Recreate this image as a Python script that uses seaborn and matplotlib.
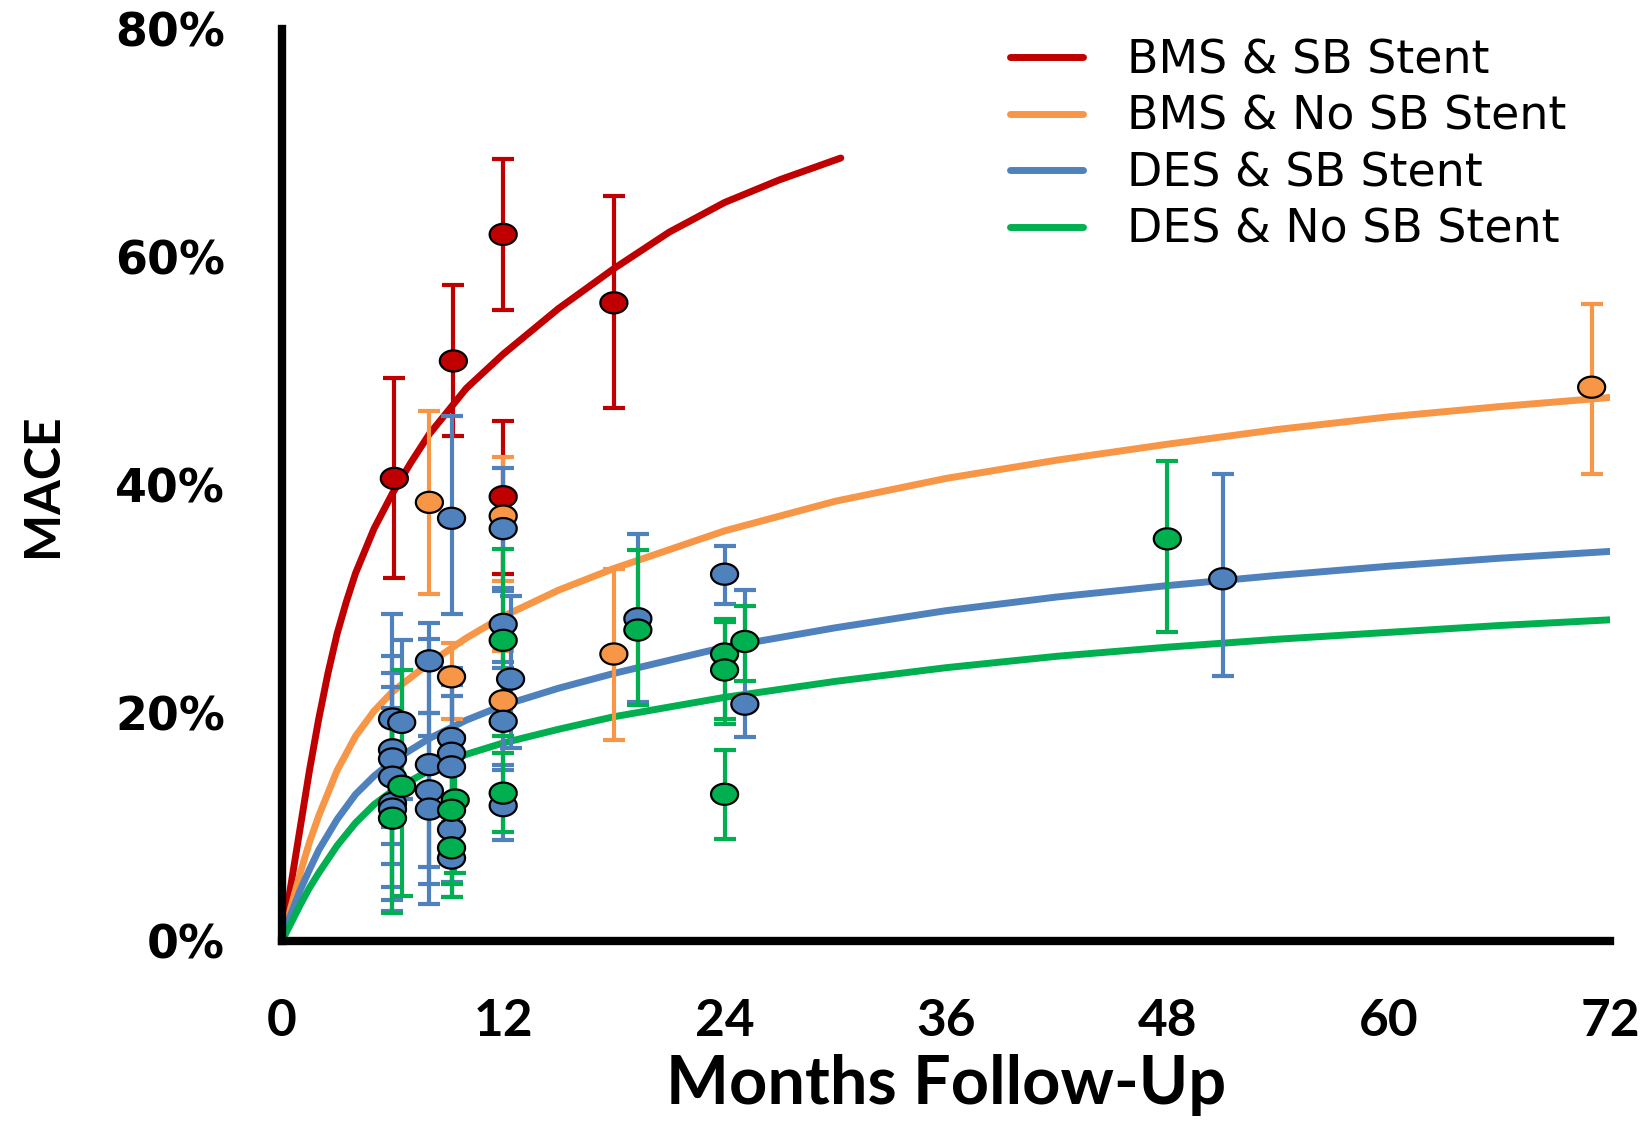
import numpy as np
import pandas as pd
import matplotlib
matplotlib.use('Agg')
import matplotlib.pyplot as plt
import seaborn as sns
from matplotlib.lines import Line2D

# Groups and colours
groups = ['BMS & SB Stent', 'BMS & No SB Stent', 'DES & SB Stent', 'DES & No SB Stent']
colours = ['#C00000', '#F79646', '#4F81BD', '#00B050']

# Fitted curves, values (months, % MACE)
red_curve_months = [0, 0.5, 1, 1.5, 2, 2.5, 3, 3.5, 4, 5, 6, 7, 8, 10, 12, 15, 18, 21, 24, 27, 30.3]
red_curve_mace = [0, 5, 10, 15, 19.5, 23.5, 27, 29.8, 32.3, 36.2, 39.3, 42, 44.5, 48.5, 51.5, 55.5, 59, 62.2, 64.8, 66.8, 68.7]

curve_months = [0, 0.5, 1, 1.5, 2, 3, 4, 5, 6, 8, 10, 12, 15, 18, 24, 30, 36, 42, 48, 54, 60, 66, 72]
orange_curve_mace = [0, 3, 6, 8.7, 11, 15, 18, 20.2, 21.9, 24.4, 26.6, 28.5, 30.8, 32.7, 36, 38.6, 40.6, 42.2, 43.6, 44.9, 46, 46.9, 47.7]
blue_curve_mace = [0, 2.4, 4.5, 6.3, 8, 10.7, 12.9, 14.5, 15.8, 17.8, 19.4, 20.7, 22.2, 23.5, 25.8, 27.5, 29, 30.2, 31.2, 32.1, 32.9, 33.6, 34.2]
green_curve_mace = [0, 1.6, 3.2, 4.7, 6, 8.4, 10.4, 12, 13.2, 15, 16.4, 17.4, 18.6, 19.7, 21.4, 22.8, 24, 25, 25.8, 26.5, 27.1, 27.7, 28.2]

# Individual studies: months, MACE %, lower and upper error
red_months = [6.1, 9.3, 12, 12, 18]
red_mace = [40.6, 50.9, 62.0, 39.0, 56.0]
red_lo = [31.9, 44.3, 55.4, 32.2, 46.8]
red_hi = [49.4, 57.6, 68.6, 45.6, 65.4]

orange_months = [8, 9.2, 12, 12, 18, 71]
orange_mace = [38.5, 23.2, 37.3, 21.1, 25.2, 48.6]
orange_lo = [30.5, 19.5, 31.6, 16.5, 17.7, 41.0]
orange_hi = [46.5, 26.2, 42.5, 25.5, 32.7, 55.9]

blue_months = [6, 6.5, 6, 6, 6, 6, 6, 8, 8, 8, 8, 9.2, 9.2, 9.2, 9.2, 9.2, 9.2,
               12, 12, 12.4, 12, 12, 19.3, 24, 25.1, 51]
blue_mace = [19.5, 19.2, 16.8, 16.0, 14.4, 12.1, 11.6, 24.6, 15.5, 13.2, 11.6, 37.1, 17.8, 16.5, 15.3, 9.8, 7.3,
             36.2, 27.8, 23.0, 19.3, 11.9, 28.3, 32.2, 20.8, 31.8]
blue_lo = [10.0, 12.5, 8.5, 6.8, 4.8, 3.6, 2.7, 20.0, 3.3, 6.5, 5.0, 28.7, 12.0, 10.5, 8.5, 5.2, 3.9,
           31.0, 24.5, 17.0, 15.0, 8.9, 21.0, 29.6, 17.9, 23.3]
blue_hi = [28.7, 26.4, 25.0, 23.5, 22.3, 20.5, 19.0, 27.9, 26.5, 20.0, 18.0, 46.1, 24.0, 22.5, 21.5, 15.0, 11.0,
           41.5, 30.7, 30.3, 24.0, 15.5, 35.7, 34.7, 30.8, 41.0]

green_months = [6.5, 6, 9.4, 9.2, 9.2, 12, 12, 19.3, 24, 24, 25.1, 24, 48]
green_mace = [13.6, 10.8, 12.4, 11.5, 8.2, 26.4, 13.0, 27.3, 25.2, 23.8, 26.3, 12.9, 35.3]
green_lo = [4.0, 2.5, 6.0, 5.0, 3.9, 18.0, 9.6, 20.7, 19.1, 19.5, 22.8, 9.0, 27.1]
green_hi = [23.8, 19.0, 18.0, 17.0, 12.5, 34.4, 16.5, 34.3, 28.3, 28.0, 29.4, 16.8, 42.1]

x_ticks = [0, 12, 24, 36, 48, 60, 72]
y_ticks = [0, 20, 40, 60, 80]

# Build tidy frames
curves = pd.concat([
    pd.DataFrame({'months': red_curve_months, 'mace': red_curve_mace, 'group': groups[0]}),
    pd.DataFrame({'months': curve_months, 'mace': orange_curve_mace, 'group': groups[1]}),
    pd.DataFrame({'months': curve_months, 'mace': blue_curve_mace, 'group': groups[2]}),
    pd.DataFrame({'months': curve_months, 'mace': green_curve_mace, 'group': groups[3]}),
]).reset_index(drop=True)

points = pd.concat([
    pd.DataFrame({'months': red_months, 'mace': red_mace, 'lo': red_lo, 'hi': red_hi, 'group': groups[0]}),
    pd.DataFrame({'months': orange_months, 'mace': orange_mace, 'lo': orange_lo, 'hi': orange_hi, 'group': groups[1]}),
    pd.DataFrame({'months': blue_months, 'mace': blue_mace, 'lo': blue_lo, 'hi': blue_hi, 'group': groups[2]}),
    pd.DataFrame({'months': green_months, 'mace': green_mace, 'lo': green_lo, 'hi': green_hi, 'group': groups[3]}),
]).reset_index(drop=True)

palette = dict(zip(groups, colours))

sns.set_style('white')
plt.rcParams['font.family'] = ['DejaVu Sans']
plt.rcParams.update({'text.color': 'black', 'axes.labelcolor': 'black',
                     'xtick.color': 'black', 'ytick.color': 'black'})

fig = plt.figure(figsize=(16.48, 11.22), dpi=100)
ax = fig.add_axes([0.171, 0.161, 0.806, 0.813])

sns.lineplot(data=curves, x='months', y='mace', hue='group', palette=palette, estimator=None,
             sort=False, linewidth=5, legend=False, ax=ax, zorder=2)

for group, df in points.groupby('group', sort=False):
    ax.errorbar(df['months'], df['mace'], yerr=[df['mace'] - df['lo'], df['hi'] - df['mace']],
                fmt='none', ecolor=palette[group], elinewidth=3, capsize=8, capthick=3, zorder=3)

theta = np.linspace(0, 2 * np.pi, 60)
ellipse = np.column_stack([np.cos(theta), 0.78 * np.sin(theta)])
sns.scatterplot(data=points, x='months', y='mace', hue='group', palette=palette, marker=ellipse,
                s=380, edgecolor='black', linewidth=1.6, legend=False, ax=ax, zorder=4)

ax.set_xlim(0, 72)
ax.set_ylim(0, 80)
ax.set_xticks(x_ticks)
ax.set_xticklabels([str(t) for t in x_ticks], family='Lato', fontweight='bold', fontsize=37)
ax.set_yticks(y_ticks)
ax.set_yticklabels([f'{t}%' for t in y_ticks], family='DejaVu Sans', fontweight='bold', fontsize=33)
ax.tick_params(axis='both', direction='out', length=17, width=4, color='black')
ax.tick_params(axis='y', pad=24)
ax.tick_params(axis='x', pad=24)

sns.despine(ax=ax)
for side in ['left', 'bottom']:
    ax.spines[side].set_linewidth(6)
    ax.spines[side].set_color('black')

ax.set_xlabel('Months Follow-Up', family='Lato', fontweight='bold', fontsize=48, labelpad=6)
ax.set_ylabel('MACE', family='Lato', fontweight='bold', fontsize=36, labelpad=36)

handles = [Line2D([0], [0], color=c, lw=5) for c in colours]
ax.legend(handles, groups, loc='upper left', bbox_to_anchor=(0.517, 1.035), frameon=False,
          prop={'family': 'DejaVu Sans', 'size': 33}, handlelength=1.6, handletextpad=0.95,
          labelspacing=0.25)

fig.savefig('out.png', dpi=100, facecolor='white')
